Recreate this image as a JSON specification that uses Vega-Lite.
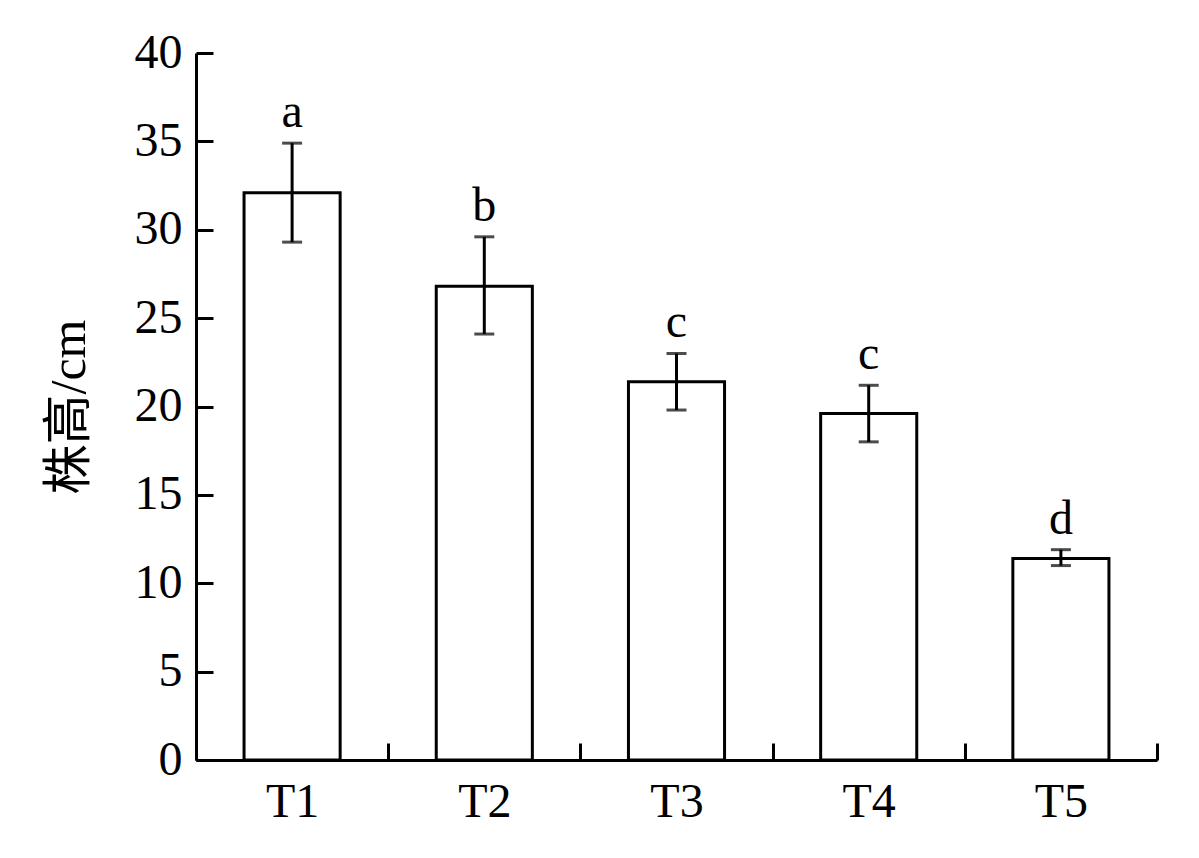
{
  "$schema": "https://vega.github.io/schema/vega-lite/v6.json",
  "width": 961,
  "height": 707,
  "autosize": "none",
  "padding": {"left": 196, "top": 53, "right": 42, "bottom": 98},
  "background": "white",
  "config": {"view": {"stroke": null}, "font": "Liberation Serif"},
  "data": {"values": [
    {"group": "T1", "mean": 32.1, "low": 29.3, "high": 34.9, "sig": "a"},
    {"group": "T2", "mean": 26.8, "low": 24.1, "high": 29.6, "sig": "b"},
    {"group": "T3", "mean": 21.4, "low": 19.8, "high": 23.0, "sig": "c"},
    {"group": "T4", "mean": 19.6, "low": 18.0, "high": 21.2, "sig": "c"},
    {"group": "T5", "mean": 11.4, "low": 11.0, "high": 11.9, "sig": "d"}
  ]},
  "encoding": {
    "x": {
      "field": "group", "type": "nominal", "sort": null,
      "scale": {"paddingInner": 0, "paddingOuter": 0},
      "axis": {
        "title": null, "labelAngle": 0, "tickBand": "extent",
        "tickSize": -17, "tickWidth": 3, "tickColor": "black",
        "domainWidth": 3, "domainColor": "black",
        "labelFont": "Liberation Serif", "labelFontSize": 48, "labelColor": "black",
        "labelPadding": 35
      }
    }
  },
  "layer": [
    {
      "mark": {"type": "bar", "fill": "white", "stroke": "black", "strokeWidth": 3, "width": {"band": 0.5}},
      "encoding": {
        "y": {
          "field": "mean", "type": "quantitative",
          "scale": {"domain": [0, 40], "nice": false},
          "axis": {
            "title": "株高/cm", "values": [0, 5, 10, 15, 20, 25, 30, 35, 40],
            "grid": false, "tickSize": -17, "tickWidth": 3, "tickColor": "black",
            "domainWidth": 3, "domainColor": "black",
            "labelFont": "Liberation Serif", "labelFontSize": 48, "labelColor": "black",
            "labelPadding": 31,
            "titleFont": "Liberation Serif, Noto Sans CJK SC", "titleFontSize": 50,
            "titleFontWeight": "normal", "titleColor": "black", "titlePadding": 40
          }
        }
      }
    },
    {
      "mark": {"type": "rule", "stroke": "black", "strokeWidth": 3},
      "encoding": {
        "y": {"field": "low", "type": "quantitative"},
        "y2": {"field": "high"}
      }
    },
    {
      "mark": {"type": "tick", "color": "black", "thickness": 3, "size": 20, "orient": "horizontal"},
      "encoding": {"y": {"field": "high", "type": "quantitative"}}
    },
    {
      "mark": {"type": "tick", "color": "black", "thickness": 3, "size": 20, "orient": "horizontal"},
      "encoding": {"y": {"field": "low", "type": "quantitative"}}
    },
    {
      "mark": {"type": "text", "font": "Liberation Serif", "fontSize": 48, "baseline": "bottom", "dy": -6, "color": "black"},
      "encoding": {
        "y": {"field": "high", "type": "quantitative"},
        "text": {"field": "sig"}
      }
    }
  ]
}
